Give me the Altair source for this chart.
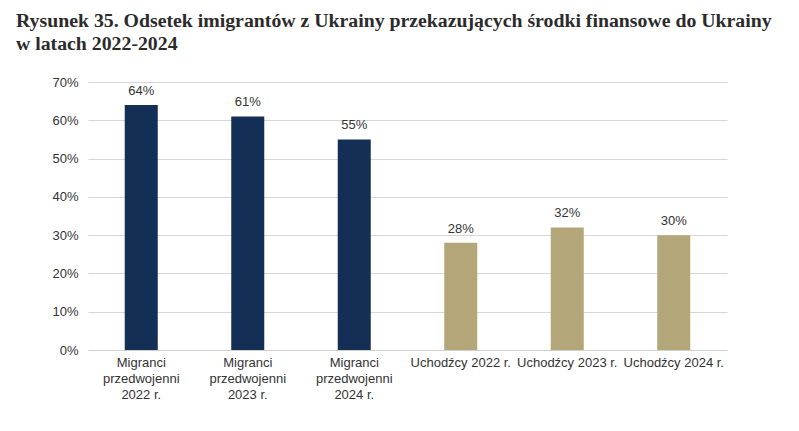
import altair as alt
import pandas as pd

categories = [
    "Migranci|przedwojenni|2022 r.",
    "Migranci|przedwojenni|2023 r.",
    "Migranci|przedwojenni|2024 r.",
    "Uchodźcy 2022 r.",
    "Uchodźcy 2023 r.",
    "Uchodźcy 2024 r.",
]
values = [0.64, 0.61, 0.55, 0.28, 0.32, 0.30]
groups = ["Migranci", "Migranci", "Migranci", "Uchodźcy", "Uchodźcy", "Uchodźcy"]
y_ticks = [0, 0.1, 0.2, 0.3, 0.4, 0.5, 0.6, 0.7]

df = pd.DataFrame({"cat": categories, "val": values, "grp": groups})

x = alt.X(
    "cat:N",
    sort=categories,
    title=None,
    scale=alt.Scale(paddingInner=0.69, paddingOuter=0.345),
    axis=alt.Axis(
        labelAngle=0,
        labelExpr="split(datum.value, '|')",
        labelFont="Liberation Sans",
        labelFontSize=13,
        labelColor="#333333",
        labelLineHeight=16,
        labelPadding=6,
        labelOverlap=False,
        labelBound=False,
        labelLimit=200,
        ticks=False,
        domain=True,
        domainColor="#d0d0d0",
        grid=False,
    ),
)

y = alt.Y(
    "val:Q",
    title=None,
    scale=alt.Scale(domain=[0, 0.7], nice=False),
    axis=alt.Axis(
        values=y_ticks,
        format=".0%",
        labelFont="Liberation Sans",
        labelFontSize=13,
        labelColor="#333333",
        labelPadding=10,
        labelOverlap=False,
        ticks=False,
        domain=False,
        grid=True,
        gridColor="#d6d6d6",
        gridWidth=1,
    ),
)

color = alt.Color(
    "grp:N",
    scale=alt.Scale(domain=["Migranci", "Uchodźcy"], range=["#132f55", "#b3a779"]),
    legend=None,
)

bars = alt.Chart(df).mark_bar().encode(x=x, y=y, color=color)

labels = alt.Chart(df).mark_text(
    baseline="bottom",
    dy=-7,
    font="Liberation Sans",
    fontSize=13,
    color="#333333",
).encode(
    x=x,
    y=y,
    text=alt.Text("val:Q", format=".0%"),
)

chart = (
    alt.layer(bars, labels)
    .properties(
        width=639,
        height=268,
        autosize=alt.AutoSizeParams(type="none"),
        padding={"left": 80, "top": 74, "right": 60, "bottom": 70},
        background="white",
        title=alt.TitleParams(
            text=[
                "Rysunek 35. Odsetek imigrantów z Ukrainy przekazujących środki finansowe do Ukrainy",
                "w latach 2022-2024",
            ],
            anchor="start",
            frame="group",
            dx=-72,
            offset=22,
            font="Liberation Serif",
            fontSize=19.8,
            fontWeight="bold",
            color="#2b2b2b",
            lineHeight=23,
            limit=800,
        ),
    )
    .configure_view(strokeWidth=0, stroke=None)
)

chart.save("out.html", embed_options={"renderer": "svg", "actions": False})
